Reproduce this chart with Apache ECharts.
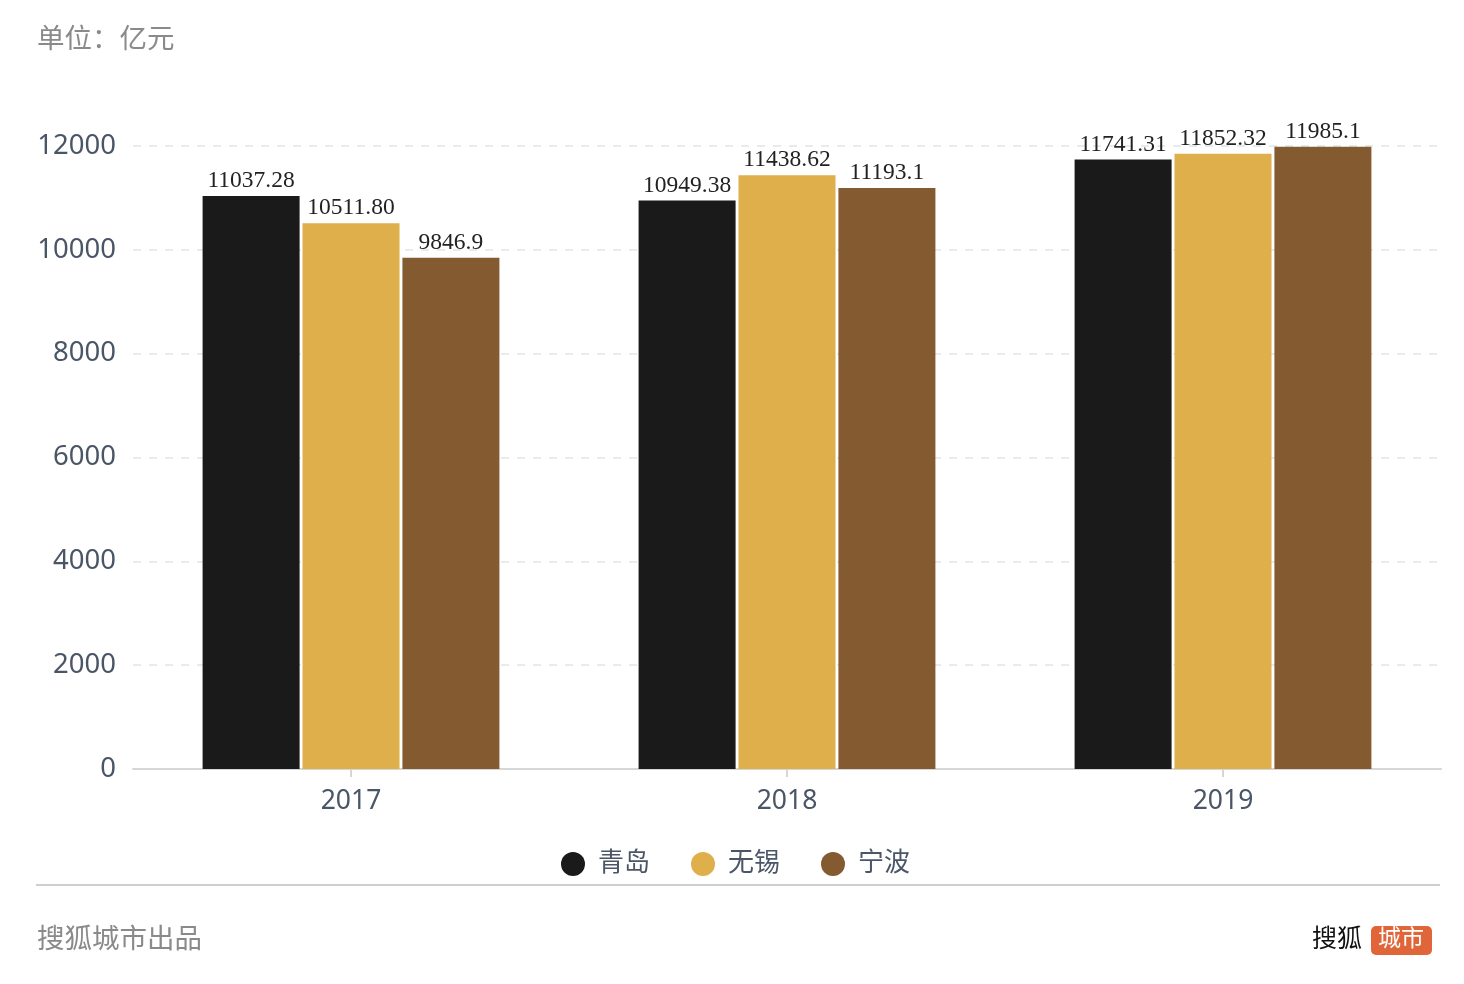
<!DOCTYPE html>
<html>
<head>
<meta charset="utf-8">
<script src="https://cdn.jsdelivr.net/npm/echarts@6/dist/echarts.min.js"></script>
<style>
html,body{margin:0;padding:0;background:#fff;}
#chart{width:1464px;height:984px;}
</style>
</head>
<body>
<div id="chart"></div>
<script>
const categories = ['2017', '2018', '2019'];
const seriesNames = ['青岛', '无锡', '宁波'];
const qingdao = [11037.28, 10949.38, 11741.31];
const wuxi = [10511.80, 11438.62, 11852.32];
const ningbo = [9846.9, 11193.1, 11985.1];
const qingdaoLabels = ['11037.28', '10949.38', '11741.31'];
const wuxiLabels = ['10511.80', '11438.62', '11852.32'];
const ningboLabels = ['9846.9', '11193.1', '11985.1'];
const yTicks = [0, 2000, 4000, 6000, 8000, 10000, 12000];
const colors = ['#1a1a1a', '#dfaf4c', '#845a31'];

const chart = echarts.init(document.getElementById('chart'));
const sans = '"Noto Sans", "Noto Sans CJK SC", sans-serif';
const serif = '"Liberation Serif", "DejaVu Serif", serif';

function mkSeries(name, data, labels, color) {
  return {
    name: name,
    type: 'bar',
    data: data,
    barWidth: 97,
    barGap: '3%',
    itemStyle: { color: color },
    label: {
      show: true,
      position: 'top',
      distance: 3,
      fontFamily: serif,
      fontSize: 23.5,
      color: '#222',
      formatter: p => labels[p.dataIndex]
    }
  };
}

chart.setOption({
  animation: false,
  color: colors,
  title: [
    { text: '单位：亿元', left: 32, top: 21, textStyle: { fontFamily: sans, fontSize: 27.5, fontWeight: 'normal', color: '#8a8a8a' } },
    { text: '搜狐城市出品', left: 32, top: 921, textStyle: { fontFamily: sans, fontSize: 27.5, fontWeight: 'normal', color: '#8a8a8a' } }
  ],
  legend: {
    data: seriesNames,
    left: 556,
    top: 846,
    icon: 'circle',
    itemWidth: 24,
    itemHeight: 24,
    itemGap: 41,
    textStyle: { fontFamily: sans, fontSize: 26, color: '#4a5566', padding: [0, 0, 0, 8] }
  },
  grid: { left: 133, right: 23, top: 146, bottom: 215, containLabel: false },
  xAxis: {
    type: 'category',
    data: categories,
    axisLine: { lineStyle: { color: '#d6d6d6', width: 2 } },
    axisTick: { show: true, alignWithLabel: true, length: 8, lineStyle: { color: '#d6d6d6', width: 2 } },
    axisLabel: { fontFamily: sans, fontSize: 26.5, color: '#4a5566', margin: 19 }
  },
  yAxis: {
    type: 'value',
    min: yTicks[0],
    max: yTicks[yTicks.length - 1],
    interval: 2000,
    axisLine: { show: false },
    axisTick: { show: false },
    axisLabel: { fontFamily: sans, fontSize: 27.5, color: '#4a5566', margin: 17, formatter: v => String(v) },
    splitLine: { lineStyle: { type: [8, 8], color: '#dce6e6', width: 1.5 } }
  },
  series: [
    mkSeries(seriesNames[0], qingdao, qingdaoLabels, colors[0]),
    mkSeries(seriesNames[1], wuxi, wuxiLabels, colors[1]),
    mkSeries(seriesNames[2], ningbo, ningboLabels, colors[2])
  ],
  graphic: [
    { type: 'line', shape: { x1: 36, y1: 885, x2: 1440, y2: 885 }, style: { stroke: '#cfcfcf', lineWidth: 2 } },
    { type: 'text', left: 1312, top: 925, style: { text: '搜狐', fontFamily: '"Noto Sans CJK SC", sans-serif', fontSize: 25, fontWeight: 'normal', fill: '#111' } },
    { type: 'rect', shape: { x: 1371, y: 926, width: 61, height: 29, r: 5 }, style: { fill: '#e0663a' } },
    { type: 'text', left: 1378, top: 926, style: { text: '城市', fontFamily: '"Noto Sans CJK SC", sans-serif', fontSize: 23, fill: '#fff' } }
  ]
});
</script>
</body>
</html>
